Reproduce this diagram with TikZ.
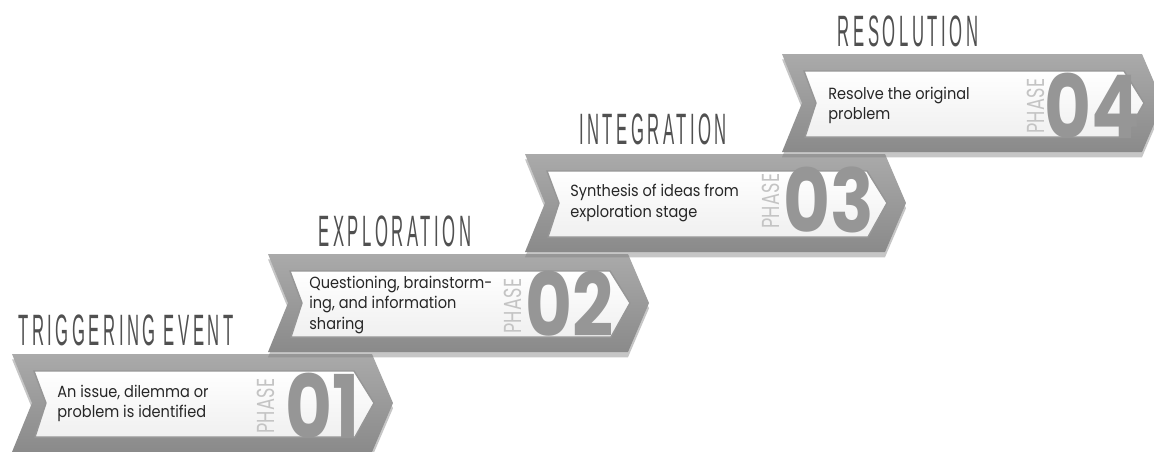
\documentclass[tikz,border=0pt]{standalone}
\usepackage{fontspec}
\usetikzlibrary{shadows}
\setmainfont[FakeStretch=0.9]{Poppins}
\newfontfamily\titlefont[FakeStretch=0.38,LetterSpace=8]{Liberation Sans}
\newfontfamily\phasefont[FakeStretch=0.72,LetterSpace=2]{Poppins}
\newfontfamily\numberfont[FakeStretch=0.82]{Poppins}

\definecolor{bandtop}{RGB}{170,170,170}
\definecolor{bandbottom}{RGB}{138,138,138}
\definecolor{paneledge}{RGB}{150,150,150}
\definecolor{titlegray}{RGB}{80,80,80}
\definecolor{phasegray}{RGB}{196,196,196}
\definecolor{numbergray}{RGB}{150,150,150}

\tikzset{
  outerband/.style={top color=bandtop, bottom color=bandbottom,
    drop shadow={opacity=0.45, shadow xshift=0pt, shadow yshift=-3pt}},
  innerpanel/.style={top color=white, bottom color=black!6, draw=paneledge, line width=0.8pt},
  titletext/.style={inner sep=0pt, text=titlegray, font=\titlefont\fontsize{25}{25}\selectfont},
  bodytext/.style={inner sep=0pt, align=left, text=black!85, font=\fontsize{9.2}{11.4}\selectfont},
  phaselabel/.style={inner sep=0pt, rotate=90, text=phasegray, font=\phasefont\fontsize{14}{14}\selectfont},
  phasenum/.style={inner sep=0pt, text=numbergray, font=\numberfont\bfseries\fontsize{50}{50}\selectfont},
  phasearrow/.pic={
    \path[outerband] (0,-49) -- (360,-49) -- (381,0) -- (360,49) -- (0,49) -- (20,0) -- cycle;
    \path[innerpanel] (22,-32) -- (342,-32) -- (362,0) -- (343,34) -- (23,34) -- (34,0) -- cycle;
  }
}

\begin{document}
\begin{tikzpicture}[x=0.02cm, y=-0.02cm]
  \useasboundingbox (0,0) rectangle (1154,451);
  \clip (0,0) rectangle (1154,451);

  % Anchor points of the arrows
  \coordinate (p1) at (12,403);
  \coordinate (p2) at (268,303);
  \coordinate (p3) at (525,203);
  \coordinate (p4) at (782,103);

  % Draw arrows
  \pic at (p1) {phasearrow};
  \pic at (p2) {phasearrow};
  \pic at (p3) {phasearrow};
  \pic at (p4) {phasearrow};

  % Draw titles
  \node[titletext, anchor=south] (t1) at ([shift={(114,-57)}]p1) {TRIGGERING EVENT};
  \node[titletext, anchor=south] (t2) at ([shift={(127,-56)}]p2) {EXPLORATION};
  \node[titletext, anchor=south] (t3) at ([shift={(128,-58)}]p3) {INTEGRATION};
  \node[titletext, anchor=south] (t4) at ([shift={(126,-56)}]p4) {RESOLUTION};

  % Draw descriptions
  \node[bodytext, anchor=west] (d1) at ([shift={(45,0)}]p1) {An issue, dilemma or\\problem is identified};
  \node[bodytext, anchor=west] (d2) at ([shift={(41,2)}]p2) {Questioning, brainstorm-\\ing, and information\\sharing};
  \node[bodytext, anchor=west] (d3) at ([shift={(45,0)}]p3) {Synthesis of ideas from\\exploration stage};
  \node[bodytext, anchor=west] (d4) at ([shift={(46,2)}]p4) {Resolve the original\\problem};

  % Draw phase labels
  \node[phaselabel] (l1) at ([shift={(254,3)}]p1) {PHASE};
  \node[phaselabel] (l2) at ([shift={(245,3)}]p2) {PHASE};
  \node[phaselabel] (l3) at ([shift={(246,-2)}]p3) {PHASE};
  \node[phaselabel] (l4) at ([shift={(254,3)}]p4) {PHASE};
  \node[phasenum] (n1) at ([shift={(311,3)}]p1) {01};
  \node[phasenum] (n2) at ([shift={(302,1)}]p2) {02};
  \node[phasenum] (n3) at ([shift={(304,-3)}]p3) {03};
  \node[phasenum] (n4) at ([shift={(310,3)}]p4) {04};
\end{tikzpicture}
\end{document}
